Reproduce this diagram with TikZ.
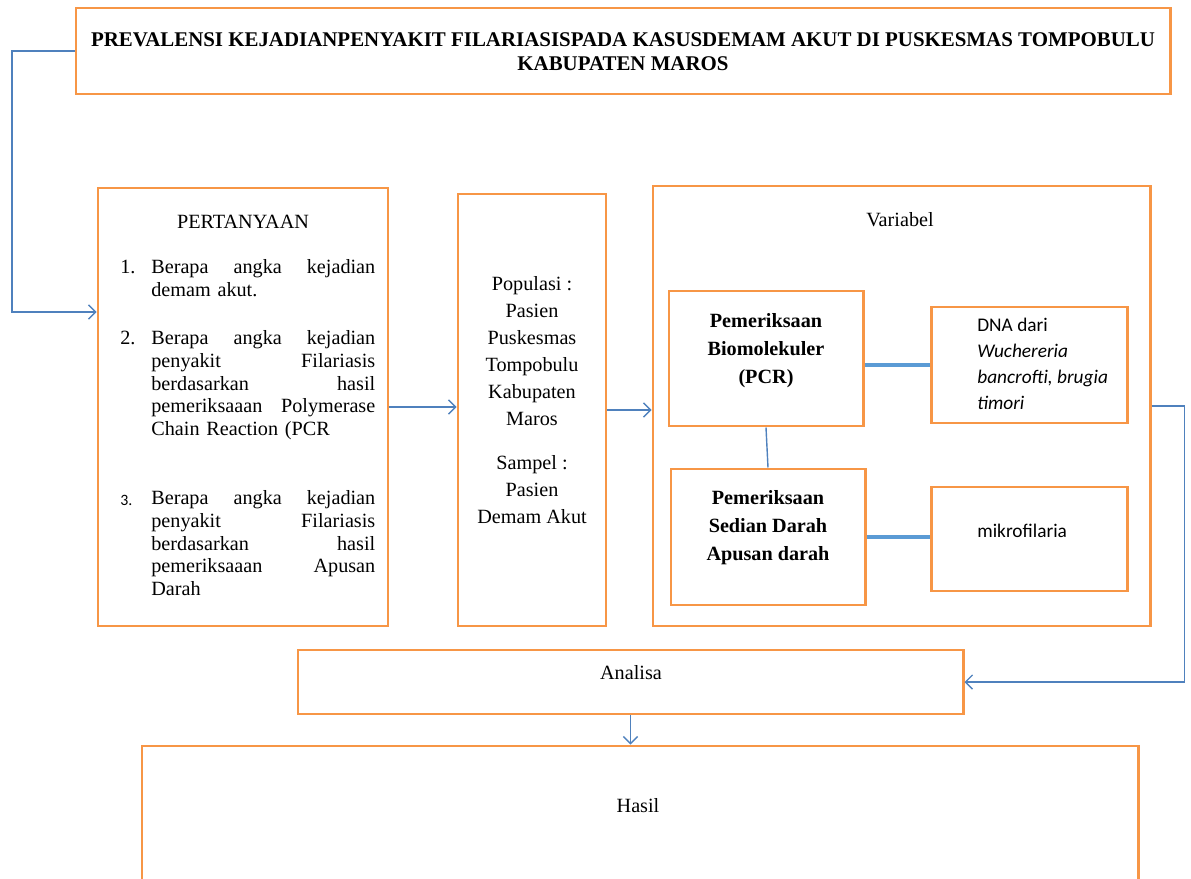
\documentclass[tikz,border=0pt]{standalone}
\usepackage{fontspec}
\setmainfont{Liberation Serif}
\setsansfont{Carlito}
\usepackage{xcolor}
\usetikzlibrary{arrows.meta,fit}
\definecolor{boxorange}{HTML}{F79646}
\definecolor{linkblue}{HTML}{4F81BD}
\definecolor{barblue}{HTML}{5B9BD5}
\tikzset{
    frame-box/.style = {draw=boxorange, line width=1.7pt, rectangle, inner sep=0pt},
    frame-text/.style = {font=\fontsize{11.5}{13.5}\selectfont, inner sep=0pt, align=center},
    frame-bold/.style = {frame-text, font=\bfseries\fontsize{11.5}{16}\selectfont},
    frame-sans/.style = {inner sep=0pt, align=left, font=\sffamily\fontsize{11}{14.7}\selectfont},
    q-num/.style = {inner sep=0pt, anchor=north west, font=\fontsize{11.5}{13}\selectfont},
    q-text/.style = {q-num, text width=4.48cm, align=left},
    link-arrow/.style = {draw=linkblue, line width=0.8pt, -{Straight Barb[length=4pt,width=8pt]}},
    link-line/.style = {draw=linkblue, line width=0.8pt},
    link-bar/.style = {draw=barblue, line width=2.8pt},
}

\begin{document}
\begin{tikzpicture}[x=0.02cm, y=-0.02cm]
\useasboundingbox (0,0) rectangle (1191,879);
\clip (0,0) rectangle (1191,879);

\node[frame-box, fit={(76,8) (1170,94)}] (title) {};
\node[frame-box, fit={(98,188) (388,626)}] (pert) {};
\node[frame-box, fit={(458,194) (606,626)}] (pop) {};
\node[frame-box, fit={(653,186) (1150,626)}] (var) {};
\node[frame-box, fit={(669,291) (863,426)}] (pcr) {};
\node[frame-box, fit={(931,307) (1127,423)}] (dna) {};
\node[frame-box, fit={(671,469) (865,605)}] (sed) {};
\node[frame-box, fit={(931,487) (1127,591)}] (mik) {};
\node[frame-box, fit={(298,650) (963,714)}] (ana) {};
\node[frame-box, fit={(142,746) (1138,900)}] (hasil) {};

\node[frame-text, font=\bfseries\fontsize{11.9}{13.6}\selectfont] (titletext) at (623,52)
    {PREVALENSI KEJADIANPENYAKIT FILARIASISPADA KASUSDEMAM AKUT DI PUSKESMAS TOMPOBULU\\KABUPATEN MAROS};
\node[frame-text] (perthead) at (243,222) {PERTANYAAN};
\node[q-num] (num1) at (120,257) {\strut 1.};
\node[q-text] (q1) at (151,257) {\strut Berapa\hfill angka\hfill kejadian\\demam akut.};
\node[q-num] (num2) at (120,328) {\strut 2.};
\node[q-text] (q2) at (151,328)
    {\strut Berapa\hfill angka\hfill kejadian\\penyakit\hfill Filariasis\\berdasarkan\hfill hasil\\pemeriksaaan\hfill Polymerase\\Chain Reaction (PCR};
\node[q-num, font=\sffamily\small] (num3) at (120,492) {\strut 3.};
\node[q-text] (q3) at (151,488)
    {\strut Berapa\hfill angka\hfill kejadian\\penyakit\hfill Filariasis\\berdasarkan\hfill hasil\\pemeriksaaan\hfill Apusan\\Darah};
\node[frame-text, font=\fontsize{11.5}{15.3}\selectfont] (poptext) at (532,400)
    {Populasi :\\Pasien\\Puskesmas\\Tompobulu\\Kabupaten\\Maros\\[10pt]Sampel :\\Pasien\\Demam Akut};
\node[frame-text] (vartext) at (900,220) {Variabel};
\node[frame-bold] (pcrtext) at (766,351) {Pemeriksaan\\Biomolekuler\\(PCR)};
\node[frame-bold] (sedtext) at (768,528) {Pemeriksaan\\Sedian Darah\\Apusan darah};
\node[frame-sans, anchor=north west] (dnatext) at (977,318)
    {DNA dari\\\textit{Wuchereria}\\\textit{bancrofti, brugia}\\\textit{timori}};
\node[frame-sans, anchor=west] (miktext) at (977,531) {mikrofilaria};
\node[frame-text] (anatext) at (631,673) {Analisa};
\node[frame-text] (hasiltext) at (638,806) {Hasil};

\draw[link-arrow] (title.west) -| (12,312) -- (pert.west |- 12,312);
\draw[link-arrow] (pert.east) -- (pert.east -| pop.west);
\draw[link-arrow] (pop.east) -- (pop.east -| var.west);
\draw[link-bar] (dna.west -| pcr.east) -- (dna.west);
\draw[link-bar] (sed.east) -- (sed.east -| mik.west);
\draw[link-line] (pcr.south) -- (sed.north);
\draw[link-arrow] (var.east) -- ++(33,0) |- (ana.east);
\draw[link-arrow] (ana.south) -- (ana.south |- hasil.north);
\end{tikzpicture}
\end{document}
